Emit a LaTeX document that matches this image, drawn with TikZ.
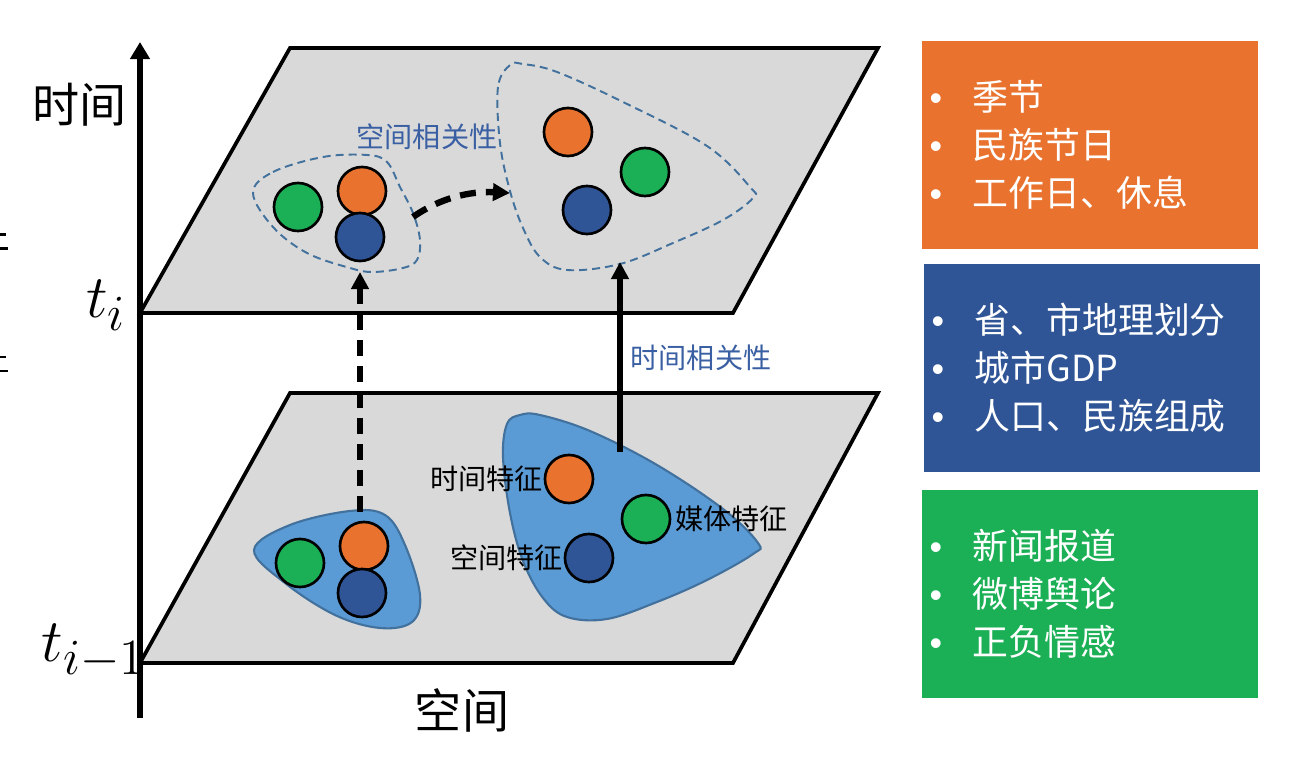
\documentclass[tikz,border=0pt]{standalone}
\usepackage{fontspec}
\setmainfont{Noto Sans CJK SC}
\newfontfamily\bulletfont{Liberation Sans}
\usetikzlibrary{arrows.meta,positioning}

\definecolor{planegray}{HTML}{D9D9D9}
\definecolor{blobfill}{HTML}{5B9BD5}
\definecolor{blobline}{HTML}{41719C}
\definecolor{corange}{HTML}{E8722E}
\definecolor{cgreen}{HTML}{1BB055}
\definecolor{cblue}{HTML}{2F5597}
\definecolor{corrblue}{HTML}{3A60A3}

\newcommand{\bitem}[1]{\makebox[0.43cm][l]{\bulletfont •}#1}

\begin{document}
\begin{tikzpicture}[
    x=0.01cm, y=-0.01cm,
    plane/.style={draw, line width=1.05pt, fill=planegray, line join=miter},
    blob/.style={draw=blobline, line width=0.6pt, fill=blobfill},
    region/.style={draw=blobline, line width=0.55pt, dash pattern=on 0.08cm off 0.05cm},
    dot/.style={circle, draw, line width=0.75pt, minimum size=0.48cm, inner sep=0pt},
    feature/.style={font=\fontsize{8}{10}\selectfont, inner sep=0pt},
    corr/.style={font=\fontsize{8}{10}\selectfont, text=corrblue, inner sep=0pt},
    infobox/.style={rectangle, anchor=north west, minimum width=3.36cm, minimum height=2.08cm,
        inner xsep=0.08cm, text width=3.2cm, align=left, text=white,
        font=\fontsize{10.2}{13.6}\selectfont},
    axis/.style={line width=1.7pt, -{Triangle[length=0.17cm, width=0.19cm]}},
    arrow/.style={line width=1.8pt, -{Triangle[length=0.17cm, width=0.17cm]}},
    dasharrow/.style={arrow, dash pattern=on 0.16cm off 0.1cm},
    axislabel/.style={font=\fontsize{13.4}{16}\selectfont, inner sep=0pt}
]
\useasboundingbox (0,0) rectangle (1290,764);

% Planes
\draw[plane] (290,48) -- (878,48) -- (733,313) -- (140,313) -- cycle;
\draw[plane] (290,393) -- (878,393) -- (733,663) -- (140,663) -- cycle;

% Axes
\draw[axis] (140,718) -- (140,42);
\node[axislabel] (timelabel) at (80,105) {时间};
\node[axislabel] (spacelabel) at (462,710) {空间};
\node[anchor=base east, inner sep=0pt, font=\fontsize{19}{22}\selectfont] (ti) at (127,318) {$t_i$};
\node[anchor=base east, inner sep=0pt, font=\fontsize{19}{22}\selectfont] (tprev) at (147,662) {$t_{i-1}$};

% Cut-off marks at the left edge
\draw[line width=0.85pt] (0,235) -- (6,235) (0,249) -- (8,249);
\draw[line width=0.85pt] (0,357) -- (6,357) (0,371) -- (8,371);

% Regions on the lower plane
\draw[blob] plot[smooth cycle, tension=0.6] coordinates {
    (254,550) (290,525) (350,511) (385,515) (405,545) (420,595)
    (412,622) (380,628) (335,615) (285,583)};
\draw[blob] plot[smooth cycle, tension=0.6] coordinates {
    (520,415) (507,424) (503,457) (510,513) (523,561) (543,598) (567,617)
    (607,619) (657,602) (707,580) (753,554) (758,543) (723,509)
    (657,465) (590,431) (540,415)};

% Regions on the upper plane
\draw[region] plot[smooth cycle, tension=0.6] coordinates {
    (253,193) (273,172) (323,157) (367,155) (387,162) (400,187)
    (413,213) (420,240) (417,260) (403,268) (373,272) (350,268)
    (307,253) (273,227)};
\draw[region] plot[smooth cycle, tension=0.6] coordinates {
    (510,65) (498,87) (500,143) (510,191) (523,228) (540,257) (567,270)
    (620,264) (673,243) (723,220) (753,198) (750,187) (707,146)
    (623,102) (557,72) (523,64)};

% Upper plane points
\node[dot, fill=cgreen] (ua-g) at (298,207) {};
\node[dot, fill=corange] (ua-o) at (362,191) {};
\node[dot, fill=cblue] (ua-b) at (360,237) {};
\node[dot, fill=corange] (ub-o) at (568,132) {};
\node[dot, fill=cgreen] (ub-g) at (645,172) {};
\node[dot, fill=cblue] (ub-b) at (587,210) {};

% Lower plane points
\node[dot, fill=cgreen] (la-g) at (300,563) {};
\node[dot, fill=corange] (la-o) at (364,546) {};
\node[dot, fill=cblue] (la-b) at (362,593) {};
\node[dot, fill=corange] (lb-o) at (569,479) {};
\node[dot, fill=cgreen] (lb-g) at (646,519) {};
\node[dot, fill=cblue] (lb-b) at (589,558) {};

% Feature labels
\node[feature, left=0pt of lb-o] (timefeat) {时间特征};
\node[feature, right=1pt of lb-g] (mediafeat) {媒体特征};
\node[feature, left=0pt of lb-b] (spacefeat) {空间特征};

% Correlation labels
\node[corr] (spacecorr) at (427,137) {空间相关性};
\node[corr] (timecorr) at (701,358) {时间相关性};

% Connectors
\coordinate (la-top) at (360,512);
\coordinate (ua-bottom) at (360,272);
\coordinate (lb-top) at (620,452);
\coordinate (ub-bottom) at (620,262);
\coordinate (ua-right) at (413,217);
\coordinate (ub-left) at (510,193);
\draw[dasharrow] (la-top) -- (ua-bottom);
\draw[arrow] (lb-top) -- (ub-bottom);
\draw[dasharrow] (ua-right) .. controls (440,198) and (470,191) .. (ub-left);

% Factor boxes
\node[infobox, fill=corange] (timebox) at (921,40) {\bitem{季节}\\\bitem{民族节日}\\\bitem{工作日、休息}};
\node[infobox, fill=cblue, minimum width=3.34cm] (spacebox) at (923,263) {\bitem{省、市地理划分}\\\bitem{城市GDP}\\\bitem{人口、民族组成}};
\node[infobox, fill=cgreen] (mediabox) at (921,489) {\bitem{新闻报道}\\\bitem{微博舆论}\\\bitem{正负情感}};

\end{tikzpicture}
\end{document}
